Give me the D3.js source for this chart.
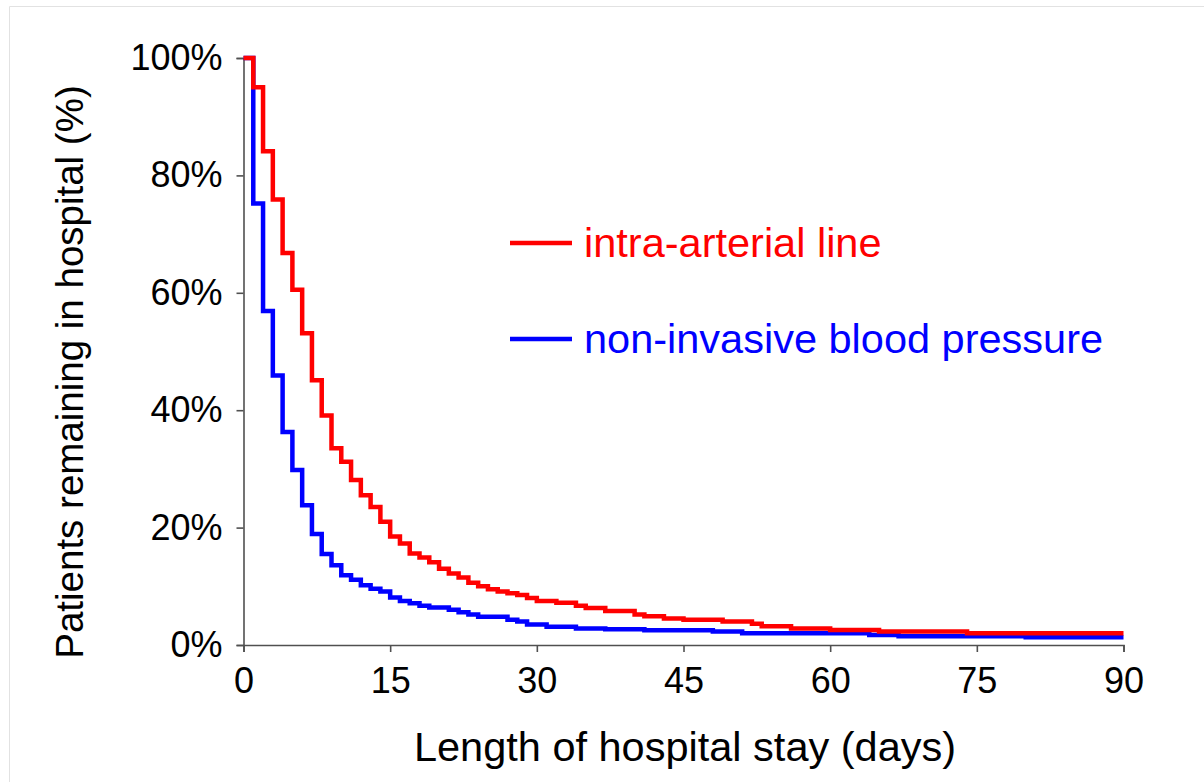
<!DOCTYPE html>
<html>
<head>
<meta charset="utf-8">
<script src="https://cdn.jsdelivr.net/npm/d3@7"></script>
<style>
  body { margin: 0; background: #ffffff; }
  svg { display: block; font-family: "Liberation Sans", Arial, sans-serif; }
</style>
</head>
<body>
<div id="vis-stay"></div>
<script>
// Data ----------------------------------------------------------------------------------------------------------------
const xTicks = [0, 15, 30, 45, 60, 75, 90];
const yTicks = [0, 20, 40, 60, 80, 100];

const seriesNames = ["intra-arterial line", "non-invasive blood pressure"];

// step change points: day -> % still in hospital (value holds until the next day listed)
const arterialDays = [0, 1, 2, 3, 4, 5, 6, 7, 8, 9, 10, 11, 12, 13, 14, 15, 16, 17, 18, 19, 20, 21, 22, 23, 24, 25, 26,
  27, 28, 29, 30, 32, 34, 35, 37, 40, 41, 43, 45, 49, 52, 53, 56, 60, 65, 74, 90];
const arterialValues = [100, 95.0, 84.1, 75.9, 66.8, 60.5, 53.1, 45.1, 39.1, 33.5, 31.2, 28.1, 25.5, 23.5, 21.0, 18.5,
  17.3, 15.6, 14.9, 14.1, 13.0, 12.2, 11.5, 10.6, 10.0, 9.5, 9.1, 8.8, 8.5, 8.0, 7.5, 7.2, 6.7, 6.3, 5.8, 5.2, 4.9, 4.5,
  4.3, 4.0, 3.6, 3.2, 2.8, 2.55, 2.3, 2.0, 2.0];

const nibpDays = [0, 1, 2, 3, 4, 5, 6, 7, 8, 9, 10, 11, 12, 13, 14, 15, 16, 17, 18, 19, 21, 22, 23, 24, 27, 28, 29, 31,
  34, 37, 41, 48, 51, 64, 67, 80, 90];
const nibpValues = [100, 75.2, 56.9, 45.9, 36.3, 29.8, 23.8, 18.9, 15.5, 13.6, 11.9, 11.1, 10.2, 9.6, 9.1, 8.1, 7.5, 7.1,
  6.7, 6.4, 6.0, 5.6, 5.2, 4.8, 4.3, 4.0, 3.5, 3.1, 2.8, 2.7, 2.5, 2.3, 2.0, 1.7, 1.5, 1.3, 1.3];

// Canvas --------------------------------------------------------------------------------------------------------------
const canvasWidth = 1204;
const canvasHeight = 782;

const plotLeft = 243.5;
const plotRight = 1123.5;
const plotTop = 58;
const plotBottom = 645;

const svg = d3.select("#vis-stay")
  .append("svg")
  .attr("width", canvasWidth)
  .attr("height", canvasHeight);

// faint frame, only top and left edges are inside the picture
svg.append("path")
  .attr("d", "M9.5," + canvasHeight + " V6.5 H" + canvasWidth)
  .attr("fill", "none")
  .attr("stroke", "#e2e2e2")
  .attr("stroke-width", 1);

const xScale = d3.scaleLinear()
  .domain([0, 90])
  .range([plotLeft, plotRight]);
const yScale = d3.scaleLinear()
  .domain([0, 100])
  .range([plotBottom, plotTop]);

// Axes ----------------------------------------------------------------------------------------------------------------
const tickFontSize = 36;
const axisColor = "#505050";

const yAxis = svg.append("g")
  .attr("transform", "translate(" + plotLeft + ",0)")
  .call(d3.axisLeft(yScale).tickValues(yTicks).tickFormat(d => d + "%").tickSize(7).tickPadding(14));
const xAxis = svg.append("g")
  .attr("transform", "translate(0," + plotBottom + ")")
  .call(d3.axisBottom(xScale).tickValues(xTicks).tickSize(7).tickPadding(15));

[xAxis, yAxis].forEach(function(axis) {
  axis.selectAll("path, line")
    .attr("stroke", axisColor)
    .attr("stroke-width", 1.6);
  axis.selectAll("text")
    .attr("fill", "#000")
    .style("font-size", tickFontSize + "px")
    .style("font-family", "\"Liberation Sans\", Arial, sans-serif");
});

svg.append("text")
  .text("Patients remaining in hospital (%)")
  .attr("transform", "translate(83," + 372 + ") rotate(-90)")
  .attr("text-anchor", "middle")
  .style("font-size", "38.5px");

svg.append("text")
  .text("Length of hospital stay (days)")
  .attr("x", 685)
  .attr("y", 761)
  .attr("text-anchor", "middle")
  .style("font-size", "41.5px");

// Curves --------------------------------------------------------------------------------------------------------------
const stepLine = d3.line()
  .x(d => xScale(d[0]))
  .y(d => yScale(d[1]))
  .curve(d3.curveStepAfter);

const curves = [
  { name: seriesNames[1], color: "#0000ff", points: d3.zip(nibpDays, nibpValues) },
  { name: seriesNames[0], color: "#ff0000", points: d3.zip(arterialDays, arterialValues) }
];

svg.append("g")
  .selectAll("path")
  .data(curves)
  .enter()
  .append("path")
  .attr("d", d => stepLine(d.points))
  .attr("fill", "none")
  .attr("stroke", d => d.color)
  .attr("stroke-width", 4.5)
  .attr("stroke-linejoin", "miter")
  .attr("stroke-linecap", "butt");

// Legend --------------------------------------------------------------------------------------------------------------
const legendFontSize = 41.5;
const legendItems = [
  { name: seriesNames[0], color: "#ff0000", y: 243 },
  { name: seriesNames[1], color: "#0000ff", y: 339 }
];

const legendGroup = svg.append("g");

legendGroup.selectAll("line")
  .data(legendItems)
  .enter()
  .append("line")
  .attr("x1", 510)
  .attr("x2", 572)
  .attr("y1", d => d.y)
  .attr("y2", d => d.y)
  .attr("stroke", d => d.color)
  .attr("stroke-width", 4.5);

legendGroup.selectAll("text")
  .data(legendItems)
  .enter()
  .append("text")
  .text(d => d.name)
  .attr("x", 584)
  .attr("y", d => d.y + 14)
  .attr("fill", d => d.color)
  .style("font-size", legendFontSize + "px");
</script>
</body>
</html>
